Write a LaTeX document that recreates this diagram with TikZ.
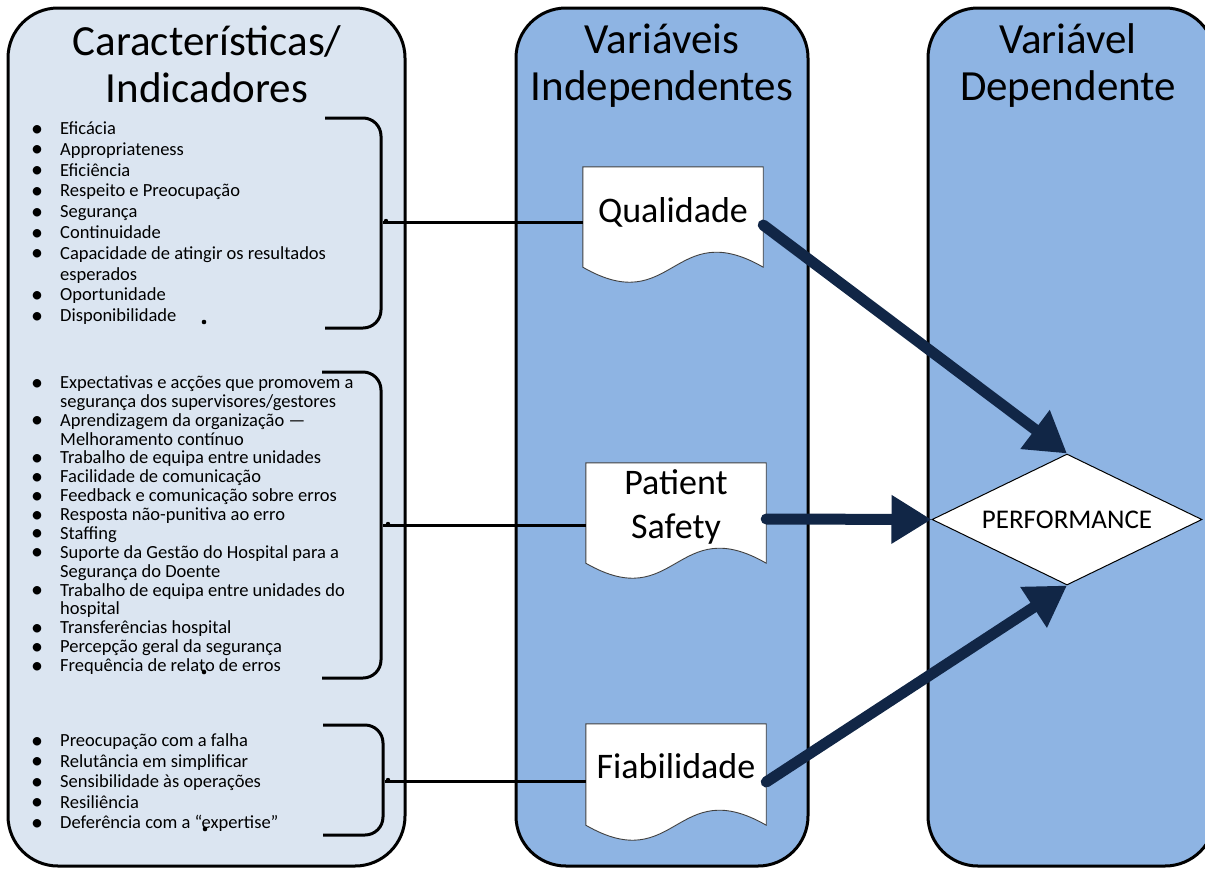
\documentclass[tikz,border=0pt]{standalone}
\usepackage{fontspec}
\setmainfont{Carlito}
\usetikzlibrary{arrows.meta,shapes.geometric,calc}
\definecolor{lightpanel}{HTML}{DBE5F1}
\definecolor{bluepanel}{HTML}{8EB4E3}
\definecolor{navy}{RGB}{17,38,70}
\newcommand{\bul}{\makebox[46pt]{\raisebox{-1.5pt}[0pt][0pt]{\fontsize{24}{10}\selectfont •}}}
\begin{document}
\begin{tikzpicture}[x=1pt,y=-1pt,
  panel/.style={draw=black, line width=3pt, rounded corners=50pt, inner sep=0pt},
  titletext/.style={font=\fontsize{43}{47}\selectfont, anchor=base, inner sep=0pt},
  doctext/.style={font=\fontsize{36}{45}\selectfont, anchor=base, inner sep=0pt},
  docbody/.style={minimum width=180pt, inner sep=0pt},
  docline/.style={draw=black!75, line width=0.9pt, fill=white},
  bracket/.style={draw=black, line width=3pt, rounded corners=18pt},
  conn/.style={draw=black, line width=3pt},
  bigarrow/.style={draw=navy, line width=11pt, line cap=round, -{Triangle[length=40pt,width=46pt]}},
  listtext/.style={anchor=base west, inner sep=0pt, align=left}
]
\useasboundingbox (0,0) rectangle (1205,871);
\clip (0,0) rectangle (1205,871);

% panels
\node[panel, fill=lightpanel, minimum width=397pt, minimum height=858pt] (lp) at (206.5,437) {};
\node[panel, fill=bluepanel, minimum width=292pt, minimum height=858pt] (mp) at (662,437) {};
\node[panel, fill=bluepanel, minimum width=287pt, minimum height=858pt] (rp) at (1071.5,437) {};

% titles
\node[titletext] (t1a) at (207,55) {Características/};
\node[titletext] (t1b) at (207,102) {Indicadores};
\node[titletext] (t2a) at (662,53) {Variáveis};
\node[titletext] (t2b) at (662,100) {Independentes};
\node[titletext] (t3a) at (1068,53) {Variável};
\node[titletext] (t3b) at (1068,100) {Dependente};

% documents
\node[docbody, minimum height=100pt] (q) at (673,217) {};
\node[docbody, minimum height=100pt] (p) at (676,513) {};
\node[docbody, minimum height=101pt] (f) at (676,774.5) {};
\foreach \d in {q,p,f}{
  \path[docline] (\d.north west) -- (\d.north east) -- (\d.south east)
    .. controls ($(\d.south)+(0,-52)$) and ($(\d.south)+(0,52)$) .. (\d.south west) -- cycle;
}
\node[doctext] (qt) at (673,222) {Qualidade};
\node[doctext] (pt1) at (676,494) {Patient};
\node[doctext] (pt2) at (676,538) {Safety};
\node[doctext] (ft) at (676,778) {Fiabilidade};

% diamond
\node[diamond, draw=black, line width=1pt, fill=white, minimum width=270pt, minimum height=131pt,
      inner sep=0pt, aspect=2.06, font=\fontsize{27}{30}\selectfont] (perf) at (1067,519.5) {PERFORMANCE};

% lists
\node[listtext] (l1) at (14,134.5) {\fontsize{18.5}{20.8}\selectfont
\begin{tabular}[t]{@{}l@{}l@{}}
\bul & Eficácia\\
\bul & Appropriateness\\
\bul & Eficiência\\
\bul & Respeito e Preocupação\\
\bul & Segurança\\
\bul & Continuidade\\
\bul & Capacidade de atingir os resultados\\
 & esperados\\
\bul & Oportunidade\\
\bul & Disponibilidade
\end{tabular}};
\node[listtext] (l2) at (14,388.5) {\fontsize{18.5}{18.87}\selectfont
\begin{tabular}[t]{@{}l@{}l@{}}
\bul & Expectativas e acções que promovem a\\
 & segurança dos supervisores/gestores\\
\bul & Aprendizagem da organização —\\
 & Melhoramento contínuo\\
\bul & Trabalho de equipa entre unidades\\
\bul & Facilidade de comunicação\\
\bul & Feedback e comunicação sobre erros\\
\bul & Resposta não-punitiva ao erro\\
\bul & Staffing\\
\bul & Suporte da Gestão do Hospital para a\\
 & Segurança do Doente\\
\bul & Trabalho de equipa entre unidades do\\
 & hospital\\
\bul & Transferências hospital\\
\bul & Percepção geral da segurança\\
\bul & Frequência de relato de erros
\end{tabular}};
\node[listtext] (l3) at (14,746.5) {\fontsize{18.5}{20.5}\selectfont
\begin{tabular}[t]{@{}l@{}l@{}}
\bul & Preocupação com a falha\\
\bul & Relutância em simplificar\\
\bul & Sensibilidade às operações\\
\bul & Resiliência\\
\bul & Deferência com a “expertise”
\end{tabular}};

% stray dots
\fill (204,322) circle (2.3);
\fill (204,672) circle (2.3);
\fill (205,829) circle (2.3);

% brackets
\draw[bracket] (325,118) -- (381,118) -- (381,328) -- (325,328);
\draw[bracket] (322,372) -- (381,372) -- (381,678) -- (322,678);
\draw[bracket] (323,725) -- (383,725) -- (383,835) -- (323,835);

% connectors
\coordinate (b1) at (383,222);
\coordinate (b2) at (383,525);
\coordinate (b3) at (385,781);
\draw[conn] (b1) -- (b1 -| q.west);
\draw[conn] (b2) -- (b2 -| p.west);
\draw[conn] (b3) -- (b3 -| f.west);
\fill (b1) ++(3,-1) circle (2.2);
\fill (b2) ++(5,-1) circle (2.2);
\fill (b3) ++(3,-1) circle (2.2);

% arrows
\draw[bigarrow] ([yshift=-8pt]q.east) -- (perf.north);
\draw[bigarrow] ([yshift=-6pt]p.east) -- (perf.west);
\draw[bigarrow] ([yshift=-7.5pt]f.east) -- (perf.south);
\end{tikzpicture}
\end{document}
